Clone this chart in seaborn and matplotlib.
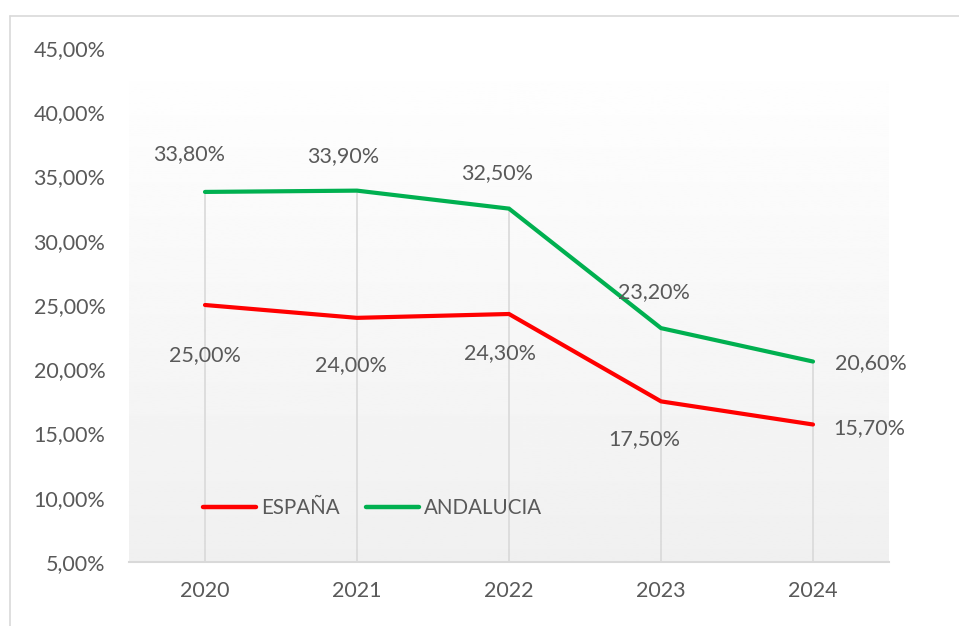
import numpy as np
import pandas as pd
import matplotlib.pyplot as plt
import seaborn as sns
from matplotlib.lines import Line2D
from matplotlib.ticker import FuncFormatter

years = [2020, 2021, 2022, 2023, 2024]
espana = [25.0, 24.0, 24.3, 17.5, 15.7]
andalucia = [33.8, 33.9, 32.5, 23.2, 20.6]
series_names = ["ESPAÑA", "ANDALUCIA"]
y_ticks = [5, 10, 15, 20, 25, 30, 35, 40, 45]

# label offsets in pixels (dx, dy) relative to each point
esp_offsets = [(0, -50), (-6, -47), (-9, -39), (-17, -38), (56, -4)]
and_offsets = [(-16, 38), (-14, 35), (-12, 36), (-7, 36), (58, -2)]

text_col = "#595959"
grid_col = "#d9d9d9"
palette = {"ESPAÑA": "#FF0000", "ANDALUCIA": "#00B050"}

df = pd.DataFrame({
    "year": years * 2,
    "value": espana + andalucia,
    "serie": [series_names[0]] * len(years) + [series_names[1]] * len(years),
})

sns.set_style("white")
plt.rcParams["font.family"] = ["Lato", "DejaVu Sans"]

fig = plt.figure(figsize=(9.59, 6.26), dpi=100)
ax = fig.add_axes([129 / 959, 1 - 562 / 626, 760 / 959, 514 / 626])

# outer chart border (left and top visible)
fig.add_artist(Line2D([10 / 959, 10 / 959], [0, 1 - 16 / 626], transform=fig.transFigure,
                      color=grid_col, lw=1.2))
fig.add_artist(Line2D([10 / 959, 1], [1 - 16 / 626, 1 - 16 / 626], transform=fig.transFigure,
                      color=grid_col, lw=1.2))

# gradient background of plot area
grad = np.linspace(1.0, 0.94, 256).reshape(-1, 1)
ax.imshow(grad, extent=[2019.5, 2024.5, 5, 45], aspect="auto", cmap="gray",
          vmin=0, vmax=1, zorder=0, origin="upper")

# drop lines from top series
ax.vlines(years, 5, andalucia, color=grid_col, lw=1.2, zorder=1)

sns.lineplot(data=df, x="year", y="value", hue="serie", palette=palette,
             linewidth=3, ax=ax, legend=False, zorder=3,
             solid_capstyle="round", solid_joinstyle="miter")

ax.set_xlim(2019.5, 2024.5)
ax.set_ylim(5, 45)
ax.set_xticks(years)
ax.set_xticklabels([str(y) for y in years])
ax.set_yticks(y_ticks)
ax.yaxis.set_major_formatter(FuncFormatter(lambda v, p: f"{v:.2f}%".replace(".", ",")))
ax.set_xlabel("")
ax.set_ylabel("")
ax.tick_params(axis="both", length=0, labelsize=15.5, labelcolor=text_col)
ax.tick_params(axis="y", pad=17)
ax.tick_params(axis="x", pad=14)
for s in ["left", "top", "right"]:
    ax.spines[s].set_visible(False)
ax.spines["bottom"].set_color(grid_col)
ax.spines["bottom"].set_linewidth(1.5)

px = 72 / 100
for vals, offs in [(espana, esp_offsets), (andalucia, and_offsets)]:
    for x, v, (dx, dy) in zip(years, vals, offs):
        ax.annotate(f"{v:.2f}%".replace(".", ","), (x, v), xytext=(dx * px, dy * px),
                    textcoords="offset points", ha="center", va="center",
                    fontsize=15.5, color=text_col, zorder=4)

handles = [Line2D([0], [0], color=palette[n], lw=3.2, solid_capstyle="round") for n in series_names]
ax.legend(handles, series_names, loc="center left", bbox_to_anchor=(0.097, 0.105),
          ncol=2, frameon=False, fontsize=14.8, labelcolor=text_col,
          handlelength=2.6, handletextpad=0.25, columnspacing=1.25,
          borderpad=0, borderaxespad=0)

fig.savefig("out.png", dpi=100)
